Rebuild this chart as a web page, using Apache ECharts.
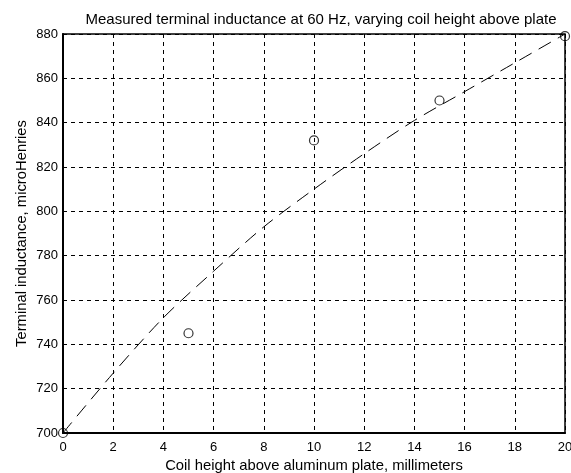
<!DOCTYPE html>
<html>
<head>
<meta charset="utf-8">
<script src="https://cdn.jsdelivr.net/npm/echarts@6/dist/echarts.min.js"></script>
<style>html,body{margin:0;padding:0;background:#fff}#c{width:571px;height:473px}</style>
</head>
<body>
<div id="c"></div>
<script>
// Measured data points
const measuredHeights = [0, 5, 10, 15, 20];
const measuredInductance = [700, 745, 832, 850, 879];
// Fitted curve
const fitHeights = [0, 2, 4, 6, 8, 10, 12, 14, 16, 18, 20];
const fitInductance = [700, 727, 752, 773, 793, 810, 826, 841, 854, 867, 880];

const titleText = 'Measured terminal inductance at 60 Hz, varying coil height above plate';
const xName = 'Coil height above aluminum plate, millimeters';
const yName = 'Terminal inductance, microHenries';

const font = 'Liberation Sans, Arial, sans-serif';
const chart = echarts.init(document.getElementById('c'), null, {renderer: 'canvas'});
chart.setOption({
  animation: false,
  backgroundColor: '#ffffff',
  title: {
    text: titleText, left: 316, top: 7, textAlign: 'center',
    textStyle: {fontFamily: font, fontSize: 15, fontWeight: 'normal', color: '#000'}
  },
  grid: {left: 63, right: 6, top: 34, bottom: 40, show: true, borderColor: '#000', borderWidth: 1.5,
         backgroundColor: 'transparent', containLabel: false, outerBoundsMode: 'none'},
  xAxis: {
    type: 'value', min: 0, max: 20, interval: 2,
    name: xName, nameLocation: 'middle', nameGap: 25, nameMoveOverlap: false,
    nameTextStyle: {fontFamily: font, fontSize: 14.8, color: '#000'},
    axisLine: {show: true, onZero: false, lineStyle: {color: '#000', width: 2}},
    axisTick: {show: false},
    axisLabel: {fontFamily: font, fontSize: 13, color: '#000', margin: 8},
    splitLine: {show: true, lineStyle: {color: '#000', width: 1, type: [4, 4]}}
  },
  yAxis: {
    type: 'value', min: 700, max: 880, interval: 20,
    name: yName, nameLocation: 'middle', nameGap: 34, nameRotate: 90, nameMoveOverlap: false,
    nameTextStyle: {fontFamily: font, fontSize: 14.8, color: '#000'},
    axisLine: {show: true, onZero: false, lineStyle: {color: '#000', width: 2}},
    axisTick: {show: false},
    axisLabel: {fontFamily: font, fontSize: 13, color: '#000', margin: 5},
    splitLine: {show: true, lineStyle: {color: '#000', width: 1, type: [4, 4]}}
  },
  series: [
    {
      type: 'line',
      data: fitHeights.map((x, i) => [x, fitInductance[i]]),
      showSymbol: false, smooth: 0.3,
      lineStyle: {color: '#000', width: 1, type: [14, 8]},
      z: 3
    },
    {
      type: 'scatter',
      data: measuredHeights.map((x, i) => [x, measuredInductance[i]]),
      symbol: 'circle', symbolSize: 9,
      itemStyle: {color: 'rgba(255,255,255,0)', borderColor: '#000', borderWidth: 1.2},
      z: 4
    }
  ]
});
</script>
</body>
</html>
